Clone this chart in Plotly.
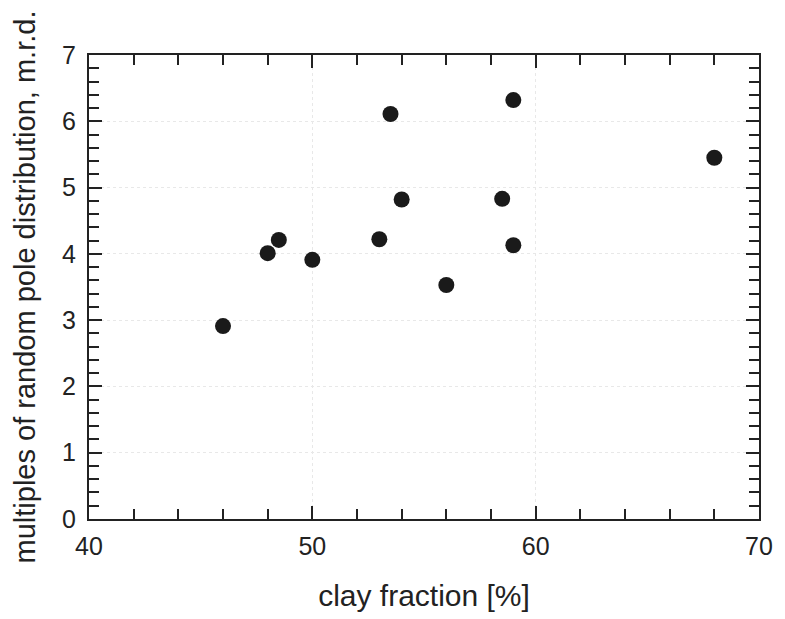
import plotly.graph_objects as go

clay_fraction = [46.0, 48.0, 48.5, 50.0, 53.0, 53.5, 54.0, 56.0, 58.5, 59.0, 59.0, 68.0]
mrd = [2.91, 4.01, 4.21, 3.91, 4.22, 6.11, 4.82, 3.53, 4.83, 6.32, 4.13, 5.45]

x_ticks = [40, 50, 60, 70]
y_ticks = [0, 1, 2, 3, 4, 5, 6, 7]

fig = go.Figure()
fig.add_trace(go.Scatter(
    x=clay_fraction, y=mrd, mode="markers",
    marker=dict(size=16, color="#1a1a1a"),
    showlegend=False,
))

font_family = "Liberation Sans, Arial, sans-serif"
axis_common = dict(
    showline=True, linecolor="#222", linewidth=2, mirror="allticks",
    ticks="inside", ticklen=13, tickwidth=2, tickcolor="#222",
    showgrid=True, gridcolor="#e8e8e8", griddash="dot", gridwidth=1,
    zeroline=False,
    tickfont=dict(family=font_family, size=25, color="#222"),
)

fig.update_xaxes(
    range=[40, 70], tickvals=x_ticks, ticklabelstandoff=4,
    minor=dict(dtick=2, tick0=40, ticks="inside", ticklen=10, tickwidth=2, tickcolor="#222", showgrid=False),
    title=dict(text="clay fraction [%]", font=dict(family=font_family, size=30, color="#222"), standoff=26),
    **axis_common,
)
fig.update_yaxes(
    range=[0, 7], tickvals=y_ticks, ticklabelstandoff=6,
    minor=dict(dtick=0.2, tick0=0, ticks="inside", ticklen=10, tickwidth=2, tickcolor="#222", showgrid=False),
    title=dict(text="multiples of random pole distribution, m.r.d.", font=dict(family=font_family, size=29, color="#222"), standoff=18),
    **axis_common,
)

fig.update_layout(
    width=785, height=619,
    margin=dict(l=89, r=18, t=55, b=96),
    plot_bgcolor="white", paper_bgcolor="white",
)

fig.write_html("out.html", config={"displayModeBar": False},
               post_script="document.body.style.margin='0';")
